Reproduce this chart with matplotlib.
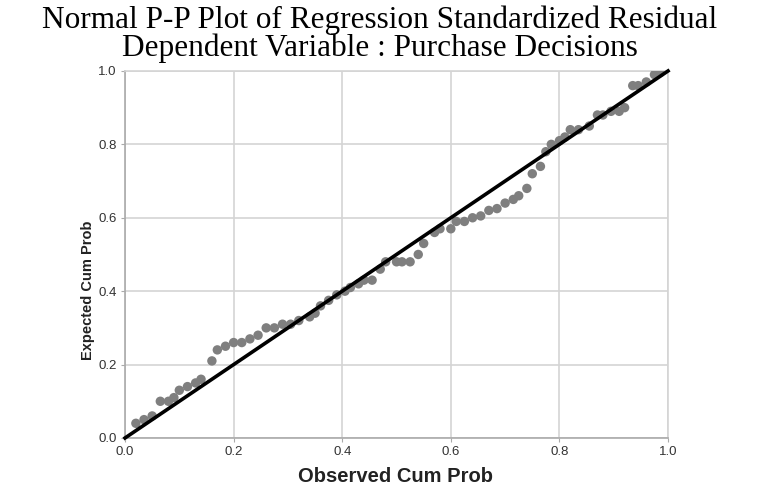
import matplotlib
matplotlib.use("Agg")
import matplotlib.pyplot as plt

observed = [0.02, 0.035, 0.05, 0.065, 0.08, 0.09, 0.10, 0.115, 0.13, 0.14,
            0.16, 0.17, 0.185, 0.20, 0.215, 0.23, 0.245, 0.26, 0.275, 0.29,
            0.305, 0.32, 0.34, 0.35, 0.36, 0.375, 0.39, 0.405, 0.415, 0.43,
            0.44, 0.455, 0.47, 0.48, 0.50, 0.51, 0.525, 0.54, 0.55, 0.57,
            0.58, 0.60, 0.61, 0.625, 0.64, 0.655, 0.67, 0.685, 0.70, 0.715,
            0.725, 0.74, 0.75, 0.765, 0.775, 0.785, 0.80, 0.81, 0.82, 0.835,
            0.855, 0.87, 0.88, 0.895, 0.91, 0.92, 0.935, 0.945, 0.96, 0.975, 0.985]
expected = [0.04, 0.05, 0.06, 0.10, 0.10, 0.11, 0.13, 0.14, 0.15, 0.16,
            0.21, 0.24, 0.25, 0.26, 0.26, 0.27, 0.28, 0.30, 0.30, 0.31,
            0.31, 0.32, 0.33, 0.34, 0.36, 0.375, 0.39, 0.40, 0.41, 0.42,
            0.43, 0.43, 0.46, 0.48, 0.48, 0.48, 0.48, 0.50, 0.53, 0.56,
            0.57, 0.57, 0.59, 0.59, 0.60, 0.605, 0.62, 0.625, 0.64, 0.65,
            0.66, 0.68, 0.72, 0.74, 0.78, 0.80, 0.81, 0.82, 0.84, 0.84,
            0.85, 0.88, 0.88, 0.89, 0.89, 0.90, 0.96, 0.96, 0.97, 0.99, 0.995]
ticks = [0.0, 0.2, 0.4, 0.6, 0.8, 1.0]
tick_labels = ["0.0", "0.2", "0.4", "0.6", "0.8", "1.0"]
title = "Normal P-P Plot of Regression Standardized Residual\nDependent Variable : Purchase Decisions"

fig = plt.figure(figsize=(7.6, 4.86), dpi=100)
ax = fig.add_axes([0.1645, 0.0988, 0.7145, 0.7552])

ax.set_xlim(0, 1)
ax.set_ylim(0, 1)
ax.set_xticks(ticks)
ax.set_yticks(ticks)
ax.set_xticklabels(tick_labels)
ax.set_yticklabels(tick_labels)
ax.grid(True, color="#d4d4d4", linewidth=1.2)
ax.set_axisbelow(True)
for s in ["top", "right"]:
    ax.spines[s].set_color("#d4d4d4")
    ax.spines[s].set_linewidth(1.2)
for s in ["left", "bottom"]:
    ax.spines[s].set_color("#aaaaaa")
    ax.spines[s].set_linewidth(1.2)
ax.tick_params(axis="both", length=3, color="#aaaaaa", labelsize=9.5,
               labelcolor="#333333", pad=3)
for lab in ax.get_xticklabels() + ax.get_yticklabels():
    lab.set_family("Liberation Sans")

ax.scatter(observed, expected, s=46, color="#7f7f7f", edgecolors="none", zorder=3)
ax.plot([0, 1], [0, 1], color="black", linewidth=2.6, zorder=4, clip_on=False)

fig.text(396 / 760, 1 - 476 / 486, "Observed Cum Prob", ha="center", va="center",
         fontsize=14.5, fontweight="bold", family="Liberation Sans", color="#222222")
fig.text(88 / 760, 1 - 290 / 486, "Expected Cum Prob", ha="center", va="center",
         rotation=90, fontsize=10.5, fontweight="bold", family="Liberation Sans",
         color="#222222")

fig.text(0.5, 0.988, title, ha="center", va="top", fontsize=22.5,
         family="Liberation Serif", linespacing=0.92)

fig.savefig("out.png", dpi=100)
